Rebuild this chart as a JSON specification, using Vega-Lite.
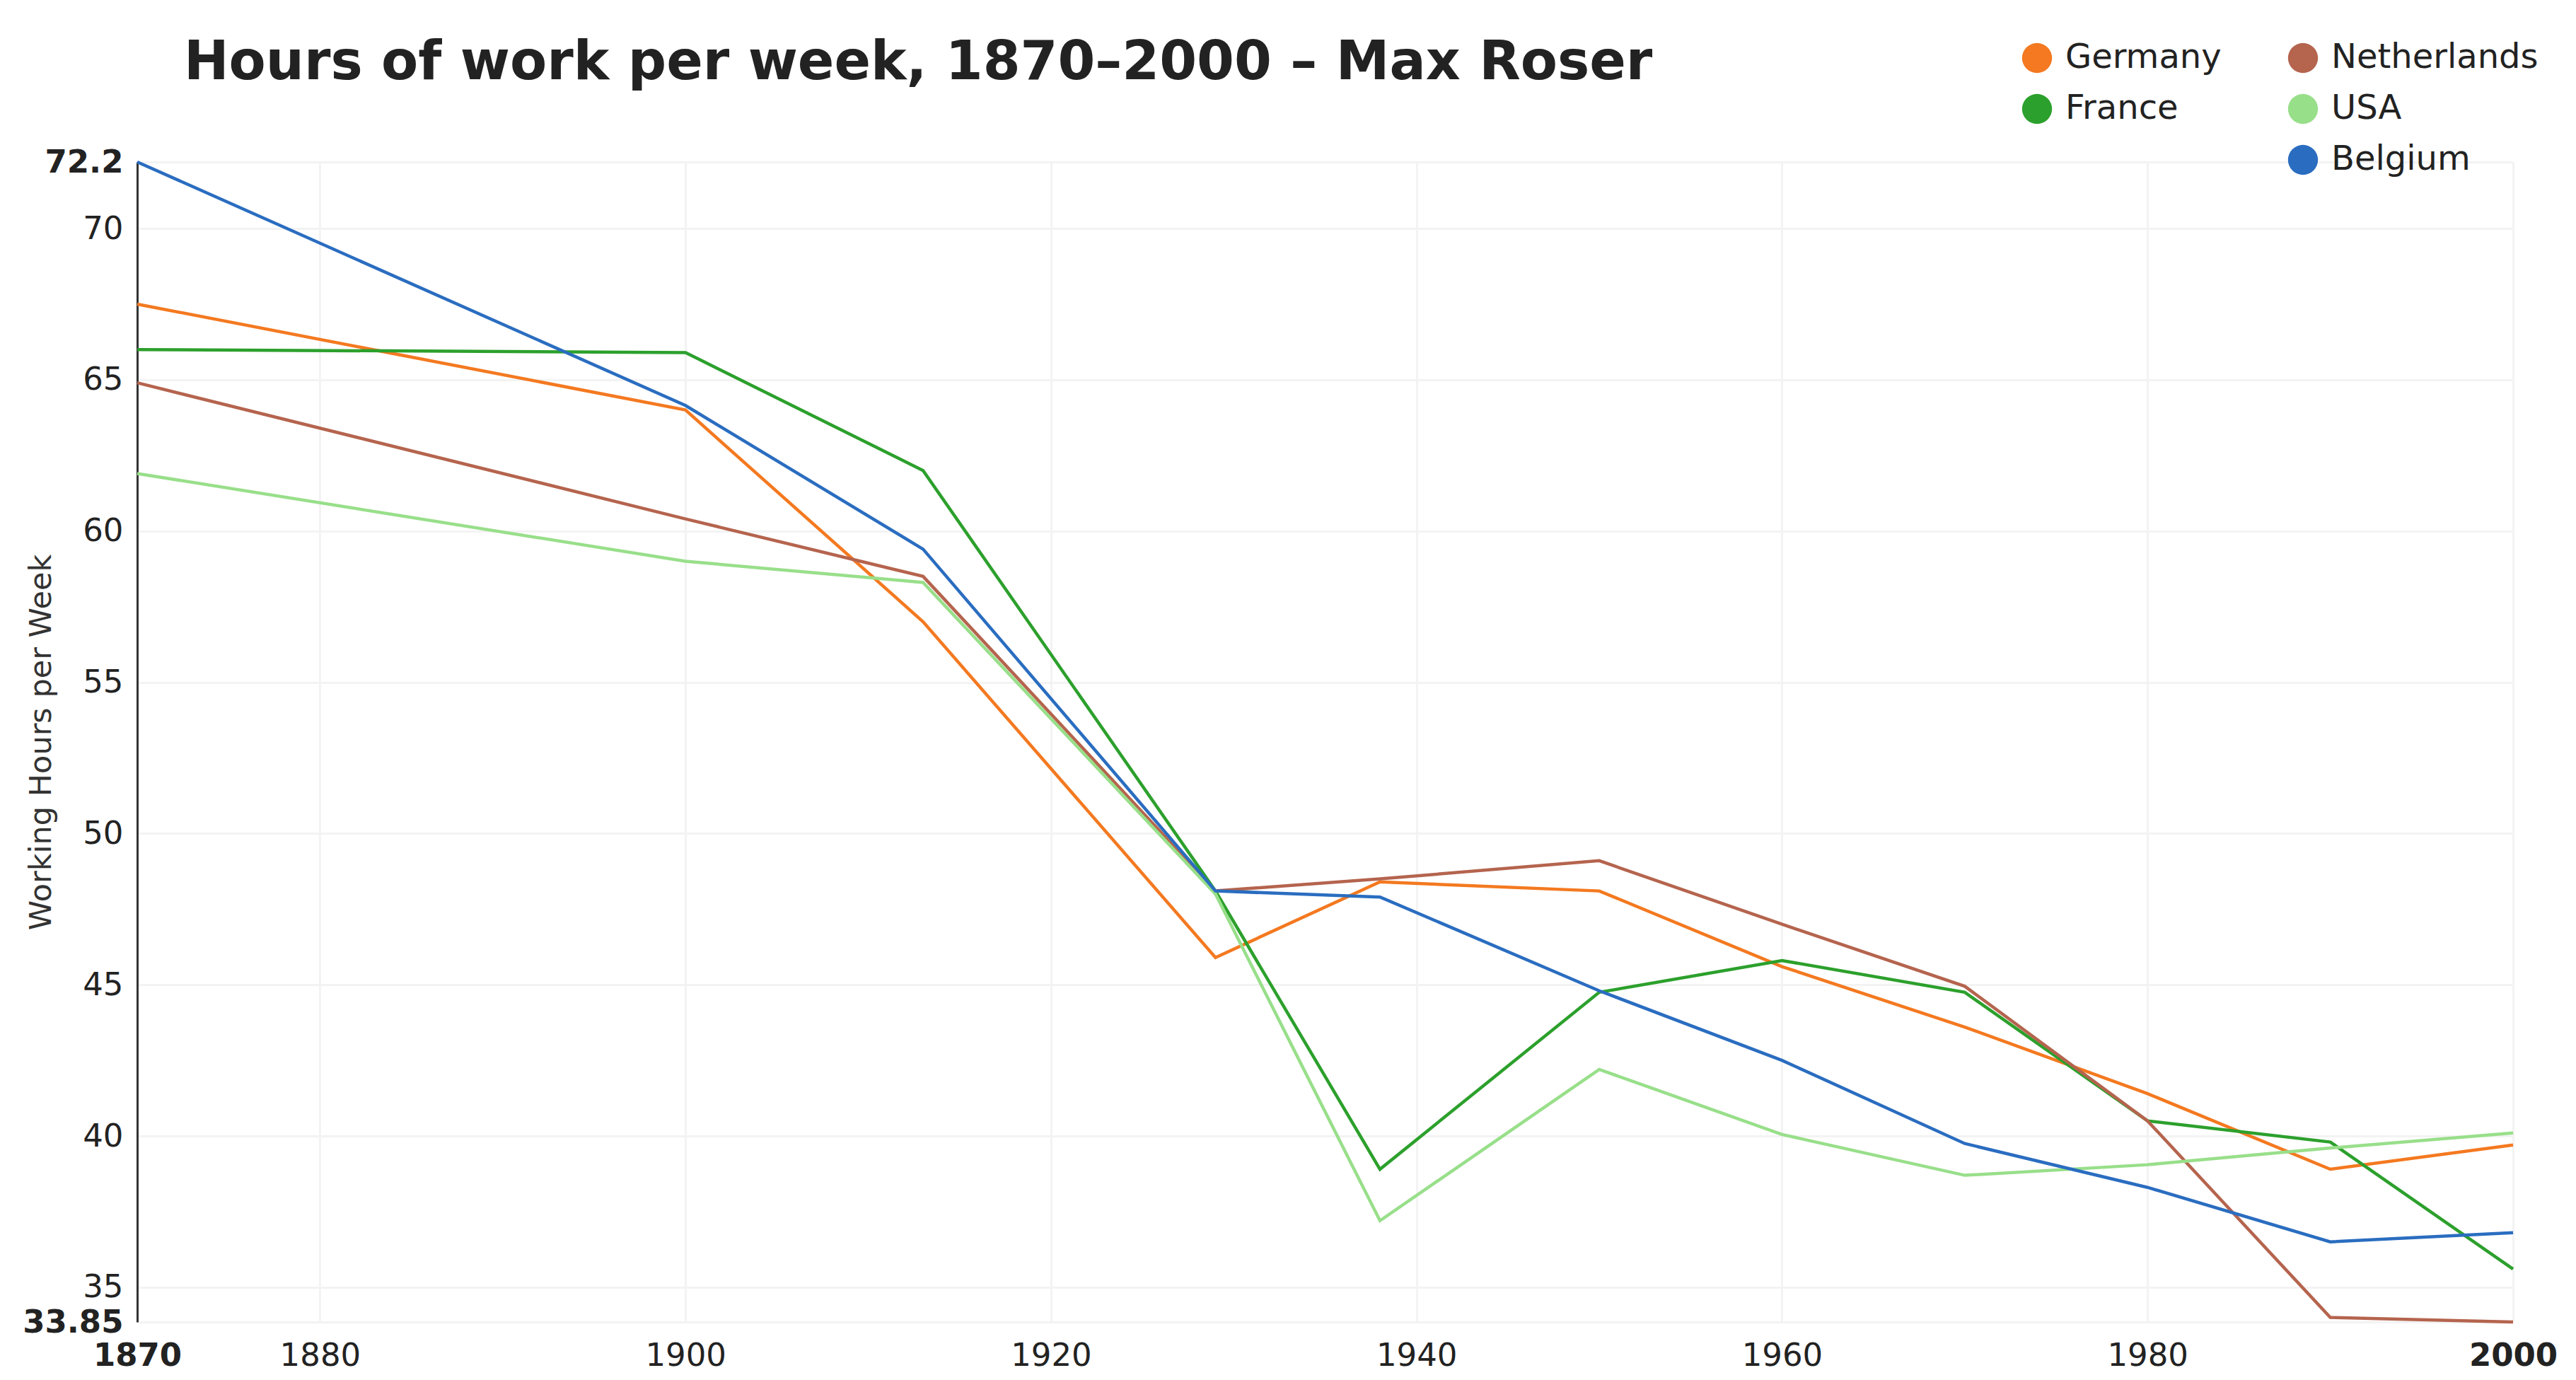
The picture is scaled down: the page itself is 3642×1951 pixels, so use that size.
{
  "$schema": "https://vega.github.io/schema/vega-lite/v6.json",
  "autosize": "none",
  "width": 3359,
  "height": 1640,
  "padding": {"left": 194, "top": 229, "right": 89, "bottom": 82},
  "background": "white",
  "title": {
    "text": "Hours of work per week, 1870–2000 – Max Roser",
    "anchor": "start",
    "frame": "group",
    "font": "DejaVu Sans",
    "fontSize": 76,
    "fontWeight": "bold",
    "color": "#222222",
    "baseline": "alphabetic",
    "offset": 0,
    "dy": 130,
    "dx": 66
  },
  "data": {
    "values": [
      {"country": "Germany", "year": 1870, "hours": 67.5},
      {"country": "Germany", "year": 1900, "hours": 64.0},
      {"country": "Germany", "year": 1913, "hours": 57.0},
      {"country": "Germany", "year": 1929, "hours": 45.9},
      {"country": "Germany", "year": 1938, "hours": 48.4},
      {"country": "Germany", "year": 1950, "hours": 48.1},
      {"country": "Germany", "year": 1960, "hours": 45.6},
      {"country": "Germany", "year": 1970, "hours": 43.6},
      {"country": "Germany", "year": 1980, "hours": 41.4},
      {"country": "Germany", "year": 1990, "hours": 38.9},
      {"country": "Germany", "year": 2000, "hours": 39.7},
      {"country": "France", "year": 1870, "hours": 66.0},
      {"country": "France", "year": 1900, "hours": 65.9},
      {"country": "France", "year": 1913, "hours": 62.0},
      {"country": "France", "year": 1929, "hours": 48.1},
      {"country": "France", "year": 1938, "hours": 38.9},
      {"country": "France", "year": 1950, "hours": 44.75},
      {"country": "France", "year": 1960, "hours": 45.8},
      {"country": "France", "year": 1970, "hours": 44.75},
      {"country": "France", "year": 1980, "hours": 40.5},
      {"country": "France", "year": 1990, "hours": 39.8},
      {"country": "France", "year": 2000, "hours": 35.6},
      {"country": "Netherlands", "year": 1870, "hours": 64.9},
      {"country": "Netherlands", "year": 1900, "hours": 60.4},
      {"country": "Netherlands", "year": 1913, "hours": 58.5},
      {"country": "Netherlands", "year": 1929, "hours": 48.1},
      {"country": "Netherlands", "year": 1938, "hours": 48.5},
      {"country": "Netherlands", "year": 1950, "hours": 49.1},
      {"country": "Netherlands", "year": 1960, "hours": 47.0},
      {"country": "Netherlands", "year": 1970, "hours": 44.95},
      {"country": "Netherlands", "year": 1980, "hours": 40.5},
      {"country": "Netherlands", "year": 1990, "hours": 34.0},
      {"country": "Netherlands", "year": 2000, "hours": 33.85},
      {"country": "USA", "year": 1870, "hours": 61.9},
      {"country": "USA", "year": 1900, "hours": 59.0},
      {"country": "USA", "year": 1913, "hours": 58.3},
      {"country": "USA", "year": 1929, "hours": 48.0},
      {"country": "USA", "year": 1938, "hours": 37.2},
      {"country": "USA", "year": 1950, "hours": 42.2},
      {"country": "USA", "year": 1960, "hours": 40.05},
      {"country": "USA", "year": 1970, "hours": 38.7},
      {"country": "USA", "year": 1980, "hours": 39.05},
      {"country": "USA", "year": 1990, "hours": 39.6},
      {"country": "USA", "year": 2000, "hours": 40.1},
      {"country": "Belgium", "year": 1870, "hours": 72.2},
      {"country": "Belgium", "year": 1900, "hours": 64.15},
      {"country": "Belgium", "year": 1913, "hours": 59.4},
      {"country": "Belgium", "year": 1929, "hours": 48.1},
      {"country": "Belgium", "year": 1938, "hours": 47.9},
      {"country": "Belgium", "year": 1950, "hours": 44.8},
      {"country": "Belgium", "year": 1960, "hours": 42.5},
      {"country": "Belgium", "year": 1970, "hours": 39.75},
      {"country": "Belgium", "year": 1980, "hours": 38.3},
      {"country": "Belgium", "year": 1990, "hours": 36.5},
      {"country": "Belgium", "year": 2000, "hours": 36.8}
    ]
  },
  "encoding": {
    "x": {
      "field": "year",
      "type": "quantitative",
      "scale": {"domain": [1870, 2000], "nice": false, "zero": false},
      "axis": {
        "title": null,
        "values": [1870, 1880, 1900, 1920, 1940, 1960, 1980, 2000],
        "labelExpr": "'' + datum.value",
        "labelFontWeight": {"expr": "datum.value == 1870 || datum.value == 2000 ? 'bold' : 'normal'"},
        "labelFont": "DejaVu Sans",
        "labelFontSize": 45,
        "labelColor": "#222222",
        "labelPadding": 25,
        "labelOverlap": false,
        "labelFlush": false,
        "labelBound": false,
        "domain": false,
        "ticks": false,
        "grid": true,
        "gridColor": "#f3f3f3",
        "gridWidth": 3
      }
    },
    "y": {
      "field": "hours",
      "type": "quantitative",
      "scale": {"domain": [33.85, 72.2], "nice": false, "zero": false},
      "axis": {
        "title": "Working Hours per Week",
        "titleFont": "DejaVu Sans",
        "titleFontSize": 43,
        "titleFontWeight": "normal",
        "titleColor": "#333333",
        "titleX": -136,
        "titleY": 820,
        "titleAlign": "center",
        "titleBaseline": "middle",
        "titleAngle": 270,
        "values": [33.85, 35, 40, 45, 50, 55, 60, 65, 70, 72.2],
        "labelExpr": "'' + datum.value",
        "labelFontWeight": {"expr": "datum.value == 72.2 || datum.value == 33.85 ? 'bold' : 'normal'"},
        "labelFont": "DejaVu Sans",
        "labelFontSize": 45,
        "labelColor": "#222222",
        "labelPadding": 20,
        "labelOverlap": false,
        "labelFlush": false,
        "labelBound": false,
        "domain": true,
        "domainColor": "#333333",
        "domainWidth": 3,
        "ticks": false,
        "grid": true,
        "gridColor": "#f3f3f3",
        "gridWidth": 3
      }
    }
  },
  "layer": [
    {
      "transform": [{"filter": {"field": "country", "oneOf": ["Germany", "France"]}}],
      "mark": {"type": "line", "strokeWidth": 4.5},
      "encoding": {
        "color": {
          "field": "country",
          "type": "nominal",
          "scale": {"domain": ["Germany", "France"], "range": ["#f47920", "#2ca02c"]},
          "legend": {
            "title": null,
            "orient": "none",
            "legendX": 2662,
            "legendY": -171,
            "direction": "vertical",
            "padding": 0,
            "symbolType": "circle",
            "symbolSize": 1800,
            "symbolStrokeWidth": 0,
            "labelFont": "DejaVu Sans",
            "labelFontSize": 48,
            "labelColor": "#222222",
            "labelOffset": 16,
            "labelLimit": 600,
            "rowPadding": 24,
            "encode": {
              "symbols": {
                "update": {
                  "fill": {"scale": "color", "field": "value"},
                  "fillOpacity": {"value": 1},
                  "strokeWidth": {"value": 0}
                }
              }
            }
          }
        }
      }
    },
    {
      "transform": [{"filter": {"field": "country", "oneOf": ["Netherlands", "USA", "Belgium"]}}],
      "mark": {"type": "line", "strokeWidth": 4.5},
      "encoding": {
        "stroke": {
          "field": "country",
          "type": "nominal",
          "scale": {"domain": ["Netherlands", "USA", "Belgium"], "range": ["#b5644e", "#98df8a", "#2a6dc0"]},
          "legend": {
            "title": null,
            "orient": "none",
            "legendX": 3038,
            "legendY": -171,
            "direction": "vertical",
            "padding": 0,
            "symbolType": "circle",
            "symbolSize": 1800,
            "symbolStrokeWidth": 0,
            "labelFont": "DejaVu Sans",
            "labelFontSize": 48,
            "labelColor": "#222222",
            "labelOffset": 16,
            "labelLimit": 600,
            "rowPadding": 24,
            "encode": {
              "symbols": {
                "update": {
                  "fill": {"scale": "stroke", "field": "value"},
                  "fillOpacity": {"value": 1},
                  "strokeWidth": {"value": 0}
                }
              }
            }
          }
        }
      }
    }
  ],
  "config": {
    "view": {"stroke": null}
  }
}
